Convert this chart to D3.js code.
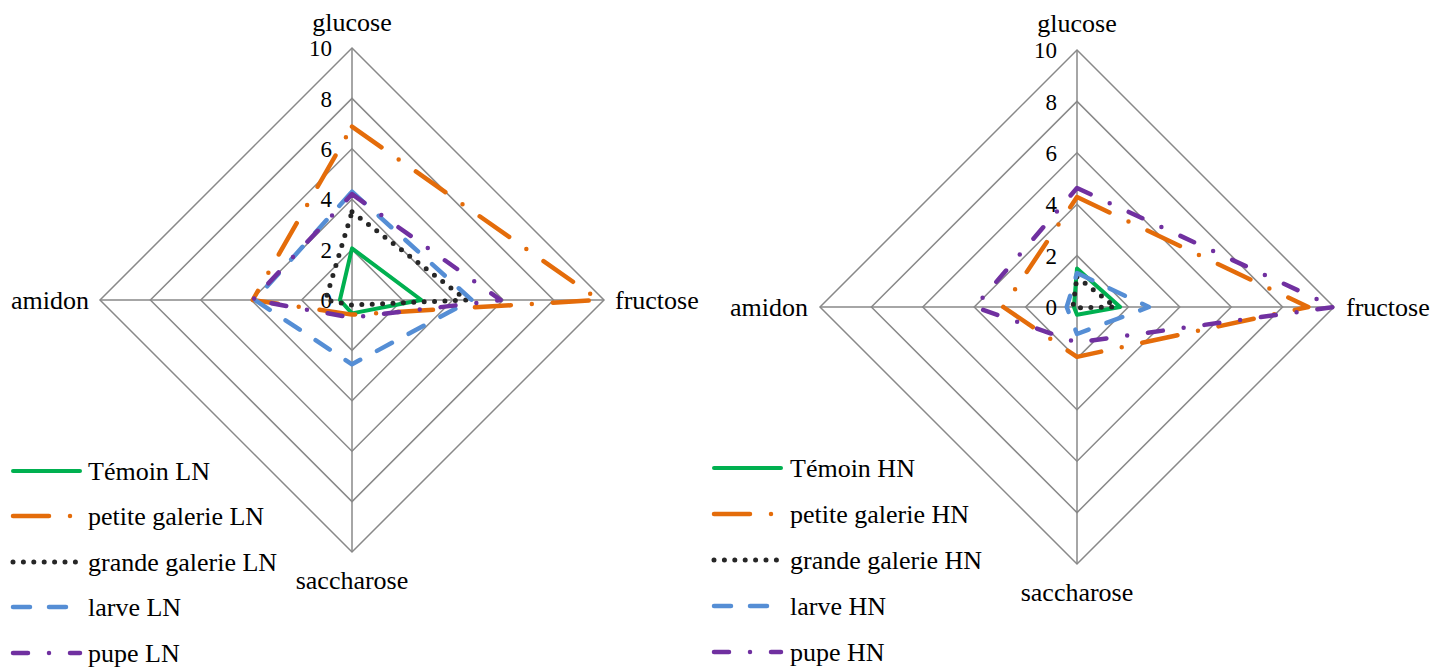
<!DOCTYPE html>
<html>
<head>
<meta charset="utf-8">
<script src="https://cdn.jsdelivr.net/npm/d3@7"></script>
<style>
  html, body { margin: 0; padding: 0; background: #fff; }
  svg { display: block; }
</style>
</head>
<body>
<svg id="chart" width="1432" height="668"></svg>
<script>
// ---- data ----
const categories = ["glucose", "fructose", "saccharose", "amidon"];
const tickValues = [0, 2, 4, 6, 8, 10];

const seriesNamesLN = ["Témoin LN", "petite galerie LN", "grande galerie LN", "larve LN", "pupe LN"];
const temoinLN = [2.05, 2.75, 0.53, 0.48];
const petiteLN = [6.88, 9.8, 0.58, 3.94];
const grandeLN = [3.5, 4.55, 0.2, 1.05];
const larveLN  = [4.3, 4.75, 2.55, 3.85];
const pupeLN   = [4.2, 5.9, 0.7, 3.94];

const seriesNamesHN = ["Témoin HN", "petite galerie HN", "grande galerie HN", "larve HN", "pupe HN"];
const temoinHN = [1.5, 1.68, 0.3, 0.12];
const petiteHN = [4.28, 9.0, 1.94, 2.87];
const grandeHN = [1.18, 1.48, 0.03, 0.16];
const larveHN  = [1.32, 2.8, 1.05, 0.4];
const pupeHN   = [4.63, 10.0, 1.38, 3.98];

// ---- styles ----
const FONT = "Liberation Serif";
const styles = [
  { color: "#00B050", dash: null, w: 4 },
  { color: "#E46C0A", dash: "36,21,0,21", w: 4.5 },
  { color: "#262626", dash: "0,10.4", w: 5 },
  { color: "#558ED5", dash: "17,19", w: 4.5 },
  { color: "#7030A0", dash: "15,21,0,21", w: 4.5 }
];

const svg = d3.select("#chart");

function drawRadar(cfg) {
  const { cx, cy, R, names, data, legendX, legendTextX, legendY, labelPos } = cfg;
  const r = d3.scaleLinear().domain([0, 10]).range([0, R]);
  const angle = d3.scaleLinear().domain([0, categories.length]).range([0, 2 * Math.PI]);
  const g = svg.append("g");

  const pt = (i, v) => [cx + r(v) * Math.sin(angle(i)), cy - r(v) * Math.cos(angle(i))];

  // grid rings
  tickValues.filter(v => v > 0).forEach(v => {
    g.append("path")
      .attr("d", d3.line()(categories.map((c, i) => pt(i, v))) + "Z")
      .attr("fill", "none").attr("stroke", "#898989").attr("stroke-width", 1.5);
  });
  // spokes
  categories.forEach((c, i) => {
    const [x, y] = pt(i, 10);
    g.append("line").attr("x1", cx).attr("y1", cy).attr("x2", x).attr("y2", y)
      .attr("stroke", "#898989").attr("stroke-width", 1.5);
  });

  // tick labels
  tickValues.forEach(v => {
    g.append("text").attr("x", cx - 20).attr("y", cy - r(v))
      .attr("text-anchor", "end").attr("dy", "0.36em")
      .attr("font-family", FONT).attr("font-size", 23).text(v);
  });

  // category labels
  categories.forEach((c, i) => {
    const p = labelPos[i];
    g.append("text").attr("x", p[0]).attr("y", p[1]).attr("text-anchor", p[2])
      .attr("font-family", FONT).attr("font-size", 26).text(c);
  });

  // series
  const line = d3.line();
  data.forEach((vals, k) => {
    const pts = vals.map((v, i) => pt(i, v));
    g.append("path").attr("d", line(pts) + "Z")
      .attr("fill", "none")
      .attr("stroke", styles[k].color)
      .attr("stroke-width", styles[k].w)
      .attr("stroke-linecap", "round")
      .attr("stroke-linejoin", "round")
      .attr("stroke-dasharray", styles[k].dash);
  });

  // legend
  names.forEach((n, k) => {
    const y = legendY[k];
    g.append("line").attr("x1", legendX[0]).attr("x2", legendX[1]).attr("y1", y).attr("y2", y)
      .attr("stroke", styles[k].color).attr("stroke-width", styles[k].w)
      .attr("stroke-linecap", "round")
      .attr("stroke-dasharray", styles[k].dash);
    g.append("text").attr("x", legendTextX).attr("y", y).attr("dy", "0.33em")
      .attr("font-family", FONT).attr("font-size", 26).text(n);
  });
}

drawRadar({
  cx: 352, cy: 300, R: 252,
  names: seriesNamesLN,
  data: [temoinLN, petiteLN, grandeLN, larveLN, pupeLN],
  legendX: [13, 80], legendTextX: 88,
  legendY: [471, 516, 562, 607, 653],
  labelPos: [[352, 31, "middle"], [615, 309, "start"], [352, 589, "middle"], [89, 309, "end"]]
});

drawRadar({
  cx: 1077, cy: 307, R: 257,
  names: seriesNamesHN,
  data: [temoinHN, petiteHN, grandeHN, larveHN, pupeHN],
  legendX: [714, 781], legendTextX: 790,
  legendY: [468, 514, 560, 606, 652],
  labelPos: [[1077, 32, "middle"], [1346, 316, "start"], [1077, 601, "middle"], [808, 316, "end"]]
});
</script>
</body>
</html>
